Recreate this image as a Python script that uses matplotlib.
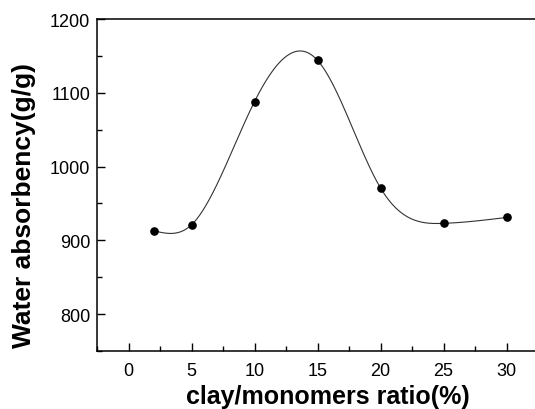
import numpy as np
import matplotlib
matplotlib.use("Agg")
import matplotlib.pyplot as plt
from matplotlib.ticker import MultipleLocator

ratio = [2, 5, 10, 15, 20, 25, 30]
absorbency = [913, 921, 1088, 1144, 971, 923, 931]
x_ticks = [0, 5, 10, 15, 20, 25, 30]
y_ticks = [800, 900, 1000, 1100, 1200]


def natural_spline(x, y, xs):
    x = np.asarray(x, float)
    y = np.asarray(y, float)
    n = len(x)
    h = np.diff(x)
    A = np.zeros((n, n))
    b = np.zeros(n)
    A[0, 0] = 1
    A[-1, -1] = 1
    for i in range(1, n - 1):
        A[i, i - 1] = h[i - 1]
        A[i, i] = 2 * (h[i - 1] + h[i])
        A[i, i + 1] = h[i]
        b[i] = 6 * ((y[i + 1] - y[i]) / h[i] - (y[i] - y[i - 1]) / h[i - 1])
    M = np.linalg.solve(A, b)
    out = np.empty_like(xs)
    for k, xv in enumerate(xs):
        i = min(max(np.searchsorted(x, xv) - 1, 0), n - 2)
        t1 = x[i + 1] - xv
        t0 = xv - x[i]
        out[k] = (M[i] * t1 ** 3 + M[i + 1] * t0 ** 3) / (6 * h[i]) \
            + (y[i] / h[i] - M[i] * h[i] / 6) * t1 \
            + (y[i + 1] / h[i] - M[i + 1] * h[i] / 6) * t0
    return out


plt.rcParams['font.family'] = ['Liberation Sans', 'DejaVu Sans']

W, H = 535, 410
fig = plt.figure(figsize=(W / 100, H / 100), dpi=100)
ax = fig.add_axes([97 / W, 1 - 352 / H, (538 - 97) / W, (352 - 20) / H])

xs = np.linspace(ratio[0], ratio[-1], 400)
ax.plot(xs, natural_spline(ratio, absorbency, xs), color='#333333', lw=0.8)
ax.plot(ratio, absorbency, 'o', color='black', markersize=5.2)

ax.set_xlim(-2.5, 32.5)
ax.set_ylim(750, 1200)
ax.set_xticks(x_ticks)
ax.set_yticks(y_ticks)
ax.xaxis.set_minor_locator(MultipleLocator(2.5))
ax.yaxis.set_minor_locator(MultipleLocator(50))
ax.tick_params(which='major', direction='in', length=6, width=1, labelsize=13)
ax.tick_params(axis='y', which='major', pad=5)
ax.tick_params(axis='x', which='major', pad=8)
ax.tick_params(which='minor', direction='in', length=3.5, width=1)
ax.tick_params(top=False, right=False)
for s in ax.spines.values():
    s.set_linewidth(1.1)

ax.set_xlabel('clay/monomers ratio(%)', fontsize=18, fontweight='bold')
ax.set_ylabel('Water absorbency(g/g)', fontsize=19, fontweight='bold')
ax.xaxis.set_label_coords(327.5 / W, 1 - 397 / H, transform=fig.transFigure)
ax.xaxis.label.set_va('center')
ax.xaxis.label.set_ha('center')
ax.yaxis.set_label_coords(24 / W, 1 - 206 / H, transform=fig.transFigure)
ax.yaxis.label.set_va('center')
ax.yaxis.label.set_ha('center')

fig.savefig('out.png', dpi=100)
